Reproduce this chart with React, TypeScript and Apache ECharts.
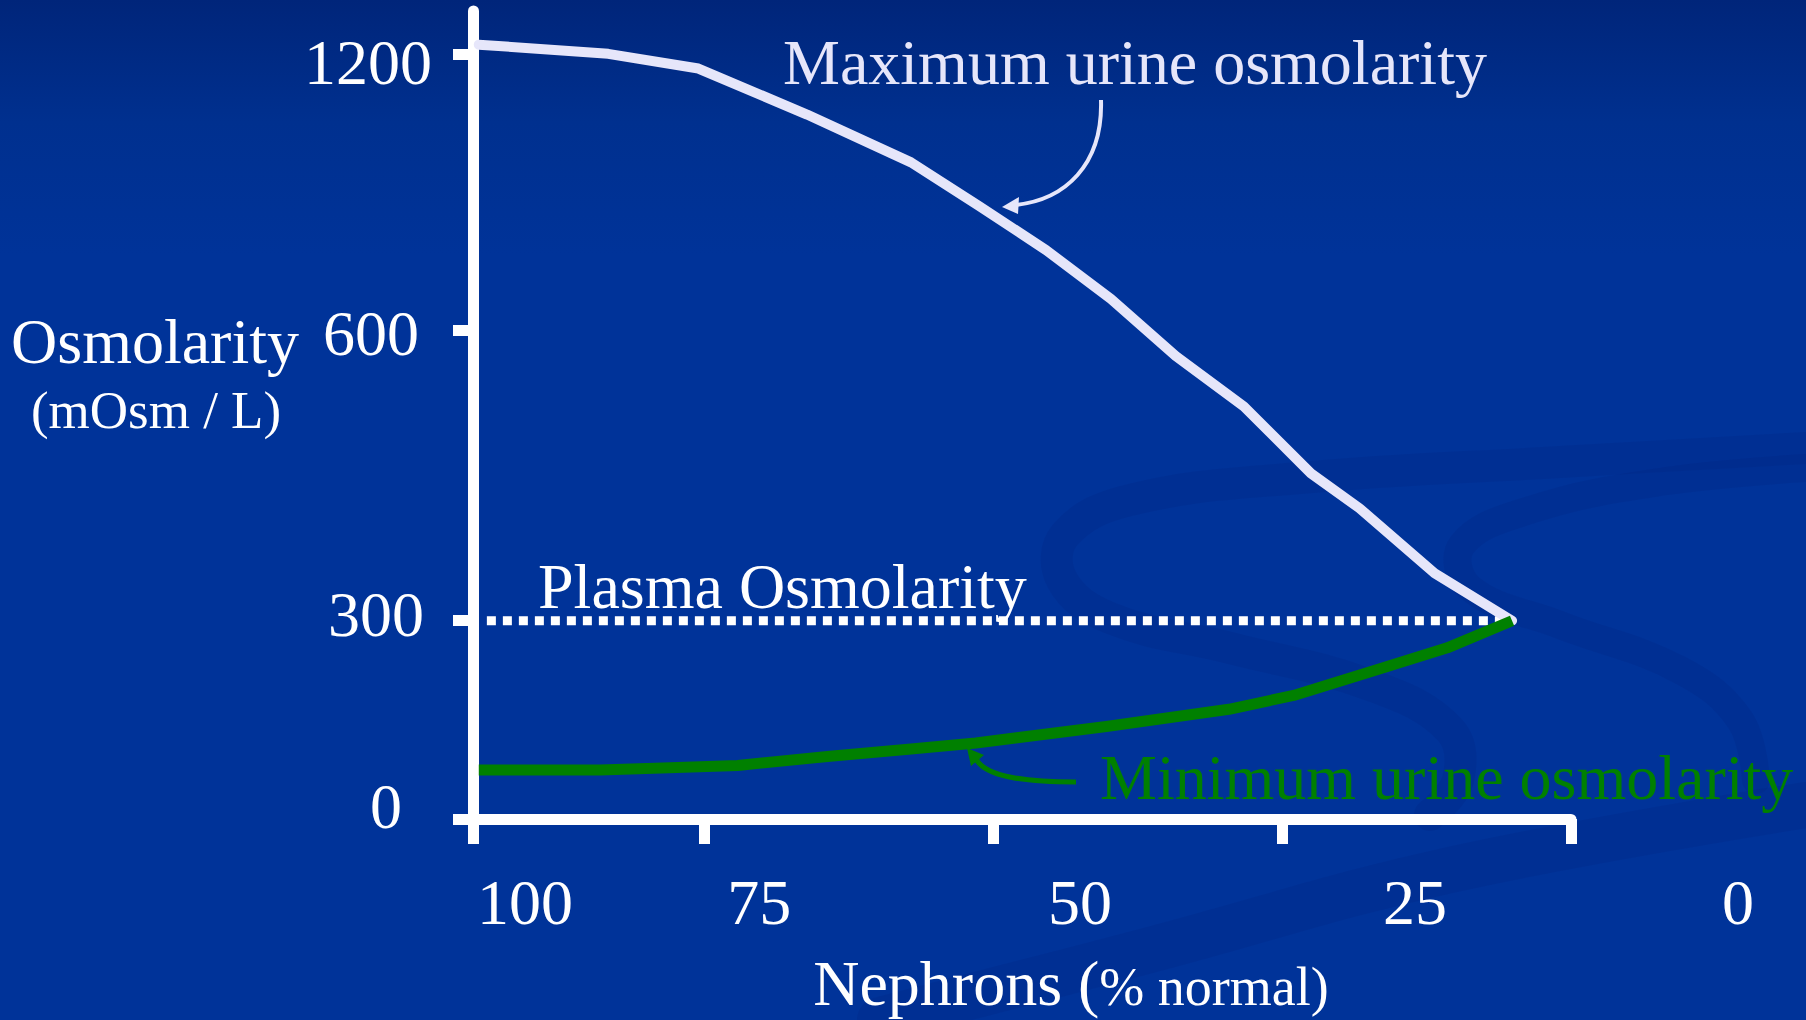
import React, { useEffect, useRef } from 'react';
import * as echarts from 'echarts';

const FONT = '"Liberation Serif", "Times New Roman", Times, serif';

// ---- Data ----
const maxNephrons = [94.5, 83.3, 75.5, 66.1, 57.1, 51.2, 45.4, 39.8, 34.2, 28.3, 22.5, 18.3, 11.8, 5.1];
const maxOsmolarity = [1220, 1200, 1168, 1068, 964, 869, 773, 667, 573, 521, 452, 416, 349, 300];
const minNephrons = [94.5, 84.0, 72.1, 64.1, 57.1, 51.5, 40.2, 29.6, 24.0, 16.8, 10.7, 5.1];
const minOsmolarity = [74, 74, 81, 95, 106, 115, 140, 166, 187, 226, 259, 300];
const plasmaNephrons = [93.8, 5.9];
const plasmaOsmolarity = [300, 300];

// ---- Axis ticks / labels ----
const yTickValues = [0, 300, 600, 1200];
const yTickLabels = ['0', '300', '600', '1200'];
const xTickValues = [95, 75, 50, 25, 0];
const xTickLabels = ['100', '75', '50', '25', '0'];

// The slide's y scale is piecewise linear between its tick values
const yScaleUnits = [0, 199, 491, 768];
const Y_AXIS_MAX = 811;
const X_AXIS_MAX = 95;

function toAxis(v: number): number {
  for (let i = 1; i < yTickValues.length; i++) {
    if (v <= yTickValues[i] || i === yTickValues.length - 1) {
      const t = (v - yTickValues[i - 1]) / (yTickValues[i] - yTickValues[i - 1]);
      return yScaleUnits[i - 1] + t * (yScaleUnits[i] - yScaleUnits[i - 1]);
    }
  }
  return 0;
}

function nearestIndex(arr: number[], v: number): number {
  let best = 0;
  for (let i = 1; i < arr.length; i++) if (Math.abs(arr[i] - v) < Math.abs(arr[best] - v)) best = i;
  return best;
}

// ---- Layout / styling constants ----
const yLabelPadding = [[0, 30, 26, 0], [0, 8, 12, 0], [8, 13, 0, 0], [18, 0, 0, 0]];
const xLabelPadding = [104, 110, 174, 266, 334];

const swirlBands = [
  { points: [[1806, 448], [1560, 462], [1300, 478], [1130, 500], [1065, 535], [1062, 580], [1110, 618], [1230, 648], [1370, 685], [1450, 730], [1458, 780], [1430, 815]], width: 32 },
  { points: [[1806, 468], [1660, 482], [1530, 510], [1462, 545], [1470, 588], [1560, 625], [1680, 670], [1740, 720], [1756, 780]], width: 28 },
  { points: [[880, 1020], [1150, 950], [1450, 870], [1806, 805]], width: 46 },
];

export default function App() {
  const ref = useRef<HTMLDivElement>(null);

  useEffect(() => {
    if (!ref.current) return;
    const chart = echarts.init(ref.current, undefined, { renderer: 'svg' });

    const yRich: any = {};
    yLabelPadding.forEach((p, i) => {
      yRich['y' + i] = { fontSize: 64, fontFamily: FONT, color: '#ffffff', padding: p };
    });
    const xRich: any = {};
    xLabelPadding.forEach((p, i) => {
      xRich['x' + i] = { fontSize: 64, fontFamily: FONT, color: '#ffffff', padding: [0, 0, 0, p] };
    });

    const textEl = (text: string, x: number, y: number, size: number, fill: string, align = 'left') => ({
      type: 'text',
      x,
      y,
      silent: true,
      style: {
        text,
        fill,
        fontSize: size,
        fontFamily: FONT,
        textAlign: align,
        align,
        textVerticalAlign: 'middle',
        verticalAlign: 'middle',
      },
    });

    const option: any = {
      animation: false,
      backgroundColor: {
        type: 'linear',
        x: 0, y: 0, x2: 0, y2: 1,
        colorStops: [
          { offset: 0, color: '#00257a' },
          { offset: 0.12, color: '#00308f' },
          { offset: 0.25, color: '#003399' },
          { offset: 1, color: '#003399' },
        ],
      },
      grid: { left: 473, top: 11, width: 1098, height: 811, containLabel: false },
      xAxis: {
        type: 'value',
        inverse: true,
        position: 'bottom',
        min: 0,
        max: X_AXIS_MAX,
        splitLine: { show: false },
        axisLine: { show: true, onZero: false, lineStyle: { color: '#ffffff', width: 11 } },
        axisTick: {
          show: true,
          customValues: xTickValues,
          length: 25,
          lineStyle: { color: '#ffffff', width: 11 },
        },
        axisLabel: {
          show: true,
          customValues: xTickValues,
          margin: 51,
          formatter: (v: number) => {
            const i = nearestIndex(xTickValues, v);
            return '{x' + i + '|' + xTickLabels[i] + '}';
          },
          rich: xRich,
        },
        name: '{a|Nephrons (}{b|% normal)}',
        nameLocation: 'middle',
        nameGap: 132,
        nameTextStyle: {
          padding: [0, 0, 0, 98],
          rich: {
            a: { fontSize: 64, fontFamily: FONT, color: '#ffffff' },
            b: { fontSize: 54, fontFamily: FONT, color: '#ffffff', padding: [7, 0, 0, 0] },
          },
        },
      },
      yAxis: {
        type: 'value',
        position: 'left',
        min: 0,
        max: Y_AXIS_MAX,
        splitLine: { show: false },
        axisLine: { show: true, onZero: false, lineStyle: { color: '#ffffff', width: 11 } },
        axisTick: {
          show: true,
          customValues: yScaleUnits,
          length: 20,
          lineStyle: { color: '#ffffff', width: 11 },
        },
        axisLabel: {
          show: true,
          customValues: yScaleUnits,
          margin: 41,
          formatter: (v: number) => {
            const i = nearestIndex(yScaleUnits, v);
            return '{y' + i + '|' + yTickLabels[i] + '}';
          },
          rich: yRich,
        },
      },
      series: [
        {
          name: 'Plasma Osmolarity',
          type: 'line',
          symbol: 'none',
          data: plasmaNephrons.map((x, i) => [x, toAxis(plasmaOsmolarity[i])]),
          lineStyle: { color: '#ffffff', width: 9, type: [9, 7], cap: 'butt' },
          z: 3,
        },
        {
          name: 'Maximum urine osmolarity',
          type: 'line',
          symbol: 'none',
          data: maxNephrons.map((x, i) => [x, toAxis(maxOsmolarity[i])]),
          lineStyle: { color: '#e6e6fa', width: 10, cap: 'round', join: 'round' },
          z: 4,
        },
        {
          name: 'Minimum urine osmolarity',
          type: 'line',
          symbol: 'none',
          data: minNephrons.map((x, i) => [x, toAxis(minOsmolarity[i])]),
          lineStyle: { color: '#008000', width: 11, cap: 'butt', join: 'round' },
          z: 5,
        },
      ],
      graphic: [
        {
          type: 'group',
          z: -10,
          silent: true,
          children: swirlBands.map((b) => ({
            type: 'polyline',
            silent: true,
            shape: { points: b.points, smooth: 0.4 },
            style: { stroke: 'rgba(0, 25, 110, 0.14)', lineWidth: b.width, fill: null, lineCap: 'round' },
          })),
        },
        textEl('Osmolarity', 155, 341, 64, '#ffffff', 'center'),
        textEl('(mOsm / L)', 156, 410, 53, '#ffffff', 'center'),
        textEl('Maximum urine osmolarity', 783, 62, 64, '#e6e6fa'),
        textEl('Plasma Osmolarity', 538, 586, 64, '#ffffff'),
        textEl('Minimum urine osmolarity', 1100, 777, 64, '#008000'),
        {
          type: 'bezierCurve',
          silent: true,
          shape: { x1: 1101, y1: 100, cpx1: 1103, cpy1: 165, cpx2: 1065, cpy2: 200, x2: 1015, y2: 205 },
          style: { stroke: '#e6e6fa', lineWidth: 4, fill: null },
          z: 10,
        },
        {
          type: 'polygon',
          silent: true,
          shape: { points: [[1002, 207], [1019, 197], [1018, 214]] },
          style: { fill: '#e6e6fa' },
          z: 10,
        },
        {
          type: 'bezierCurve',
          silent: true,
          shape: { x1: 1076, y1: 782, cpx1: 1020, cpy1: 782, cpx2: 985, cpy2: 776, x2: 976, y2: 759 },
          style: { stroke: '#008000', lineWidth: 5, fill: null },
          z: 10,
        },
        {
          type: 'polygon',
          silent: true,
          shape: { points: [[967, 748], [984, 755], [971, 766]] },
          style: { fill: '#008000' },
          z: 10,
        },
      ],
    };

    chart.setOption(option);
    return () => chart.dispose();
  }, []);

  return (
    <div
      ref={ref}
      style={{ position: 'absolute', left: 0, top: 0, width: 1806, height: 1020 }}
    />
  );
}
